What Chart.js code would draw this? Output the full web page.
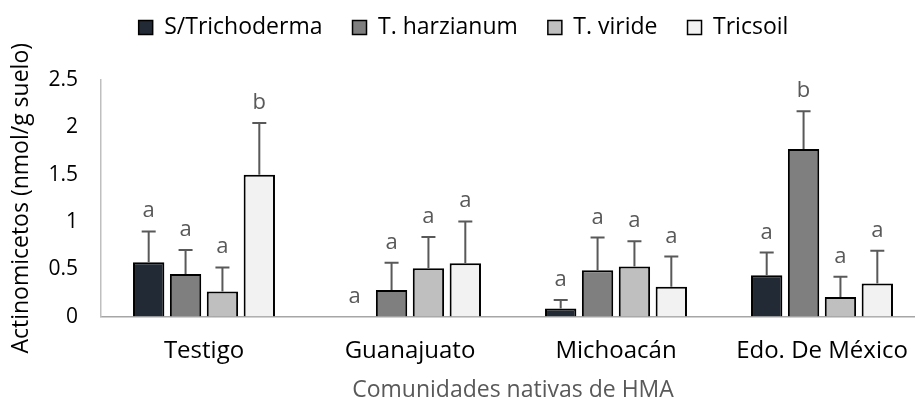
<!DOCTYPE html>
<html lang="es">
<head>
    <meta charset="UTF-8">
    <title>Actinomicetos</title>
    <script src="https://cdn.jsdelivr.net/npm/chart.js@4.4.0/dist/chart.umd.min.js"></script>
    <style>
        html, body { margin: 0; padding: 0; background: #fff; overflow: hidden; }
        #wrap { width: 928px; height: 401px; }
    </style>
</head>
<body>
    <div id="wrap"><canvas id="chart" width="928" height="401"></canvas></div>

    <script>
        // Data
        const categories = ['Testigo', 'Guanajuato', 'Michoacán', 'Edo. De México'];
        const seriesNames = ['S/Trichoderma', 'T. harzianum', 'T. viride', 'Tricsoil'];

        const sTrichoderma = [0.575, 0, 0.085, 0.437];
        const tHarzianum   = [0.45, 0.28, 0.49, 1.77];
        const tViride      = [0.265, 0.51, 0.53, 0.208];
        const tricsoil     = [1.5, 0.565, 0.315, 0.35];

        // error bars (plus side only)
        const sTrichodermaErr = [0.325, 0, 0.09, 0.24];
        const tHarzianumErr   = [0.255, 0.29, 0.345, 0.40];
        const tVirideErr      = [0.255, 0.33, 0.265, 0.212];
        const tricsoilErr     = [0.545, 0.44, 0.32, 0.345];

        // significance letters
        const sTrichodermaLetters = ['a', 'a', 'a', 'a'];
        const tHarzianumLetters   = ['a', 'a', 'a', 'b'];
        const tVirideLetters      = ['a', 'a', 'a', 'a'];
        const tricsoilLetters     = ['b', 'a', 'a', 'a'];

        const yTicks = [0, 0.5, 1, 1.5, 2, 2.5];

        const colors = ['#222a35', '#7f7f7f', '#bfbfbf', '#f2f2f2'];
        const values = [sTrichoderma, tHarzianum, tViride, tricsoil];
        const errors = [sTrichodermaErr, tHarzianumErr, tVirideErr, tricsoilErr];
        const letters = [sTrichodermaLetters, tHarzianumLetters, tVirideLetters, tricsoilLetters];

        const FONT = "'Open Sans', sans-serif";

        // error bars + letters on top of the bars
        const annotations = {
            id: 'annotations',
            afterDatasetsDraw(chart) {
                const ctx = chart.ctx;
                const y = chart.scales.y;
                ctx.save();
                chart.data.datasets.forEach((ds, i) => {
                    const meta = chart.getDatasetMeta(i);
                    meta.data.forEach((bar, j) => {
                        const v = values[i][j];
                        const e = errors[i][j];
                        const top = y.getPixelForValue(v + e);
                        if (e > 0) {
                            const base = y.getPixelForValue(v);
                            ctx.strokeStyle = '#595959';
                            ctx.lineWidth = 2;
                            ctx.beginPath();
                            ctx.moveTo(bar.x, base);
                            ctx.lineTo(bar.x, top);
                            ctx.moveTo(bar.x - 7, top);
                            ctx.lineTo(bar.x + 7, top);
                            ctx.stroke();
                        }
                        ctx.fillStyle = '#595959';
                        ctx.font = '22px ' + FONT;
                        ctx.textAlign = 'center';
                        ctx.textBaseline = 'alphabetic';
                        ctx.fillText(letters[i][j], bar.x, top - 14);
                    });
                });
                ctx.restore();
            }
        };

        // leave room between the legend and the plot, like the original
        const legendSpace = {
            id: 'legendSpace',
            beforeInit(chart) {
                const fit = chart.legend.fit;
                chart.legend.fit = function () {
                    fit.call(this);
                    this.height = 94;
                };
            }
        };

        new Chart(document.getElementById('chart'), {
            type: 'bar',
            data: {
                labels: categories,
                datasets: seriesNames.map((name, i) => ({
                    label: name,
                    data: values[i],
                    backgroundColor: colors[i],
                    borderColor: '#000',
                    borderWidth: 2,
                    borderSkipped: 'bottom',
                    categoryPercentage: 0.716,
                    barPercentage: 0.85
                }))
            },
            options: {
                responsive: false,
                animation: false,
                layout: { padding: { top: -14, right: 1, bottom: 0, left: 0 } },
                plugins: {
                    tooltip: { enabled: false },
                    legend: {
                        position: 'top',
                        labels: {
                            boxWidth: 14,
                            boxHeight: 14,
                            padding: 30,
                            color: '#000',
                            font: { family: FONT, size: 23 },
                            generateLabels(chart) {
                                return chart.data.datasets.map((ds, i) => ({
                                    text: ds.label,
                                    fillStyle: ds.backgroundColor,
                                    strokeStyle: '#000',
                                    lineWidth: 1.5,
                                    datasetIndex: i,
                                    hidden: false
                                }));
                            }
                        }
                    }
                },
                scales: {
                    x: {
                        grid: { display: false, drawTicks: false },
                        border: { display: true, color: '#a6a6a6', width: 1.5 },
                        ticks: { color: '#000', font: { family: FONT, size: 24 }, padding: 20 },
                        title: {
                            display: true,
                            text: 'Comunidades nativas de HMA',
                            color: '#595959',
                            font: { family: FONT, size: 23 },
                            padding: { top: -9, bottom: -3 }
                        }
                    },
                    y: {
                        min: 0,
                        max: 2.5,
                        afterBuildTicks(axis) {
                            axis.ticks = yTicks.map(v => ({ value: v }));
                        },
                        afterFit(axis) { axis.width = 101; },
                        grid: { display: false, drawTicks: false },
                        border: { display: true, color: '#bfbfbf', width: 1.5 },
                        ticks: {
                            color: '#000',
                            font: { family: FONT, size: 21 },
                            padding: 23,
                            callback: (v) => String(v)
                        },
                        title: {
                            display: true,
                            text: 'Actinomicetos (nmol/g suelo)',
                            color: '#000',
                            font: { family: FONT, size: 23 },
                            padding: { top: 8, bottom: 0 }
                        }
                    }
                }
            },
            plugins: [annotations, legendSpace]
        });
    </script>
</body>
</html>
